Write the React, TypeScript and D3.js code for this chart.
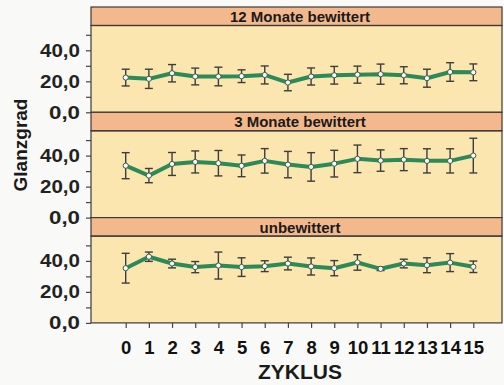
import React, { useEffect, useRef } from "react";
import * as d3 from "d3";

const cycles = ["0", "1", "2", "3", "4", "5", "6", "7", "8", "9", "10", "11", "12", "13", "14", "15"];
const panelTitles = ["12 Monate bewittert", "3 Monate bewittert", "unbewittert"];

// mean gloss and standard deviation per cycle
const mean12 = [22.4, 21.6, 25.2, 23.1, 23.1, 23.3, 24.1, 19.2, 23.1, 23.9, 24.3, 24.6, 23.9, 22.0, 26.0, 25.8];
const sd12 = [5.4, 6.2, 5.6, 5.4, 6.0, 4.1, 5.8, 5.3, 5.5, 5.7, 5.5, 6.5, 5.5, 5.8, 6.0, 5.4];
const mean3 = [33.5, 27.1, 34.6, 35.9, 35.1, 33.4, 36.6, 34.2, 32.7, 34.8, 37.9, 36.8, 37.4, 36.6, 36.6, 40.0];
const sd3 = [8.4, 4.6, 7.4, 7.1, 8.2, 7.0, 7.9, 8.5, 9.2, 8.6, 8.9, 6.9, 7.1, 7.8, 7.8, 11.2];
const mean0 = [35.3, 42.7, 38.3, 36.0, 37.0, 36.0, 36.6, 38.3, 36.4, 35.3, 39.0, 34.9, 38.3, 37.2, 38.9, 36.2];
const sd0 = [9.6, 3.0, 2.8, 3.6, 8.7, 6.0, 3.5, 4.1, 5.5, 4.9, 5.0, 1.1, 2.8, 4.8, 5.8, 3.7];

const yTicks = [0, 20, 40];
const yMinor = [10, 30, 50];

const W = 504;
const H = 385;
const left = 91;
const right = 502;
const top0 = 7;
const panelH = 105.3;
const stripH = 18.5;

const App = () => {
  const ref = useRef<SVGSVGElement>(null);

  useEffect(() => {
    const svg = d3.select(ref.current);
    svg.selectAll("*").remove();

    const font = "'Liberation Sans', Arial, sans-serif";
    const series = [
      { title: panelTitles[0], mean: mean12, sd: sd12 },
      { title: panelTitles[1], mean: mean3, sd: sd3 },
      { title: panelTitles[2], mean: mean0, sd: sd0 },
    ];

    const x = d3.scalePoint<string>().domain(cycles).range([125.7, 473.3]);

    series.forEach((s, i) => {
      const pTop = top0 + i * panelH;
      const pBottom = pTop + panelH;
      const y = d3
        .scaleLinear()
        .domain([0, 56])
        .range([pBottom, pBottom - 86.8]);

      const g = svg.append("g");

      // plot background
      g.append("rect")
        .attr("x", left)
        .attr("y", pTop + stripH)
        .attr("width", right - left)
        .attr("height", panelH - stripH)
        .attr("fill", "#fbe6b0");

      // strip
      g.append("rect")
        .attr("x", left)
        .attr("y", pTop)
        .attr("width", right - left)
        .attr("height", stripH)
        .attr("fill", "#f3b98c")
        .attr("stroke", "#3a3a3a")
        .attr("stroke-width", 1.2);

      g.append("text")
        .attr("x", 300)
        .attr("y", pTop + 15)
        .attr("text-anchor", "middle")
        .attr("font-family", font)
        .attr("font-weight", "bold")
        .attr("font-size", 15)
        .attr("fill", "#1a1a1a")
        .text(s.title);

      // frame
      g.append("rect")
        .attr("x", left)
        .attr("y", pTop + stripH)
        .attr("width", right - left)
        .attr("height", panelH - stripH)
        .attr("fill", "none")
        .attr("stroke", "#3a3a3a")
        .attr("stroke-width", 1.2);

      // y axis
      const yAxis = g
        .append("g")
        .attr("transform", `translate(${left},0)`)
        .call(
          d3
            .axisLeft(y)
            .tickValues([...yTicks, ...yMinor])
            .tickSize(5)
            .tickPadding(6)
            .tickFormat((d) => (yTicks.includes(+d) ? d3.format(".1f")(+d).replace(".", ",") : ""))
        );
      yAxis.select(".domain").remove();
      yAxis.selectAll("line").attr("stroke", "#444").attr("stroke-width", 1.2);
      yAxis
        .selectAll("text")
        .attr("font-family", font)
        .attr("font-weight", "bold")
        .attr("font-size", 18.5)
        .attr("fill", "#222")
        .attr("textLength", (d) => (+d === 0 ? 31 : 40))
        .attr("lengthAdjust", "spacingAndGlyphs");

      // error bars
      const eb = g
        .selectAll(".eb")
        .data(s.mean)
        .enter()
        .append("g")
        .attr("stroke", "#3d3d3d")
        .attr("stroke-width", 1.4);
      eb.append("line")
        .attr("x1", (d, j) => x(cycles[j])!)
        .attr("x2", (d, j) => x(cycles[j])!)
        .attr("y1", (d, j) => y(d - s.sd[j]))
        .attr("y2", (d, j) => y(d + s.sd[j]));
      eb.append("line")
        .attr("x1", (d, j) => x(cycles[j])! - 4)
        .attr("x2", (d, j) => x(cycles[j])! + 4)
        .attr("y1", (d, j) => y(d - s.sd[j]))
        .attr("y2", (d, j) => y(d - s.sd[j]));
      eb.append("line")
        .attr("x1", (d, j) => x(cycles[j])! - 4)
        .attr("x2", (d, j) => x(cycles[j])! + 4)
        .attr("y1", (d, j) => y(d + s.sd[j]))
        .attr("y2", (d, j) => y(d + s.sd[j]));

      // line
      const line = d3
        .line<number>()
        .x((d, j) => x(cycles[j])!)
        .y((d) => y(d));
      g.append("path")
        .datum(s.mean)
        .attr("d", line)
        .attr("fill", "none")
        .attr("stroke", "#2b8a57")
        .attr("stroke-width", 4)
        .attr("stroke-linejoin", "round");

      // points
      g.selectAll(".pt")
        .data(s.mean)
        .enter()
        .append("circle")
        .attr("cx", (d, j) => x(cycles[j])!)
        .attr("cy", (d) => y(d))
        .attr("r", 2.6)
        .attr("fill", "#fff")
        .attr("stroke", "#2f5f45")
        .attr("stroke-width", 1);

      if (i === series.length - 1) {
        const xAxis = g
          .append("g")
          .attr("transform", `translate(0,${pBottom})`)
          .call(d3.axisBottom(x).tickSize(5).tickPadding(13));
        xAxis.select(".domain").remove();
        xAxis.selectAll("line").attr("stroke", "#444").attr("stroke-width", 1.2);
        xAxis
          .selectAll("text")
          .attr("font-family", font)
          .attr("font-weight", "bold")
          .attr("font-size", 18.5)
          .attr("fill", "#111");
      }
    });

    svg
      .append("text")
      .attr("x", 300)
      .attr("y", 379)
      .attr("text-anchor", "middle")
      .attr("font-family", font)
      .attr("font-weight", "bold")
      .attr("font-size", 21)
      .attr("fill", "#1a1a1a")
      .text("ZYKLUS");

    svg
      .append("text")
      .attr("transform", "translate(27,145) rotate(-90)")
      .attr("text-anchor", "middle")
      .attr("font-family", font)
      .attr("font-weight", "bold")
      .attr("font-size", 19)
      .attr("fill", "#1a1a1a")
      .text("Glanzgrad");
  }, []);

  return (
    <svg
      ref={ref}
      width={W}
      height={H}
      style={{ position: "absolute", left: 0, top: 0, background: "#f9f9f7" }}
    />
  );
};

export default App;
